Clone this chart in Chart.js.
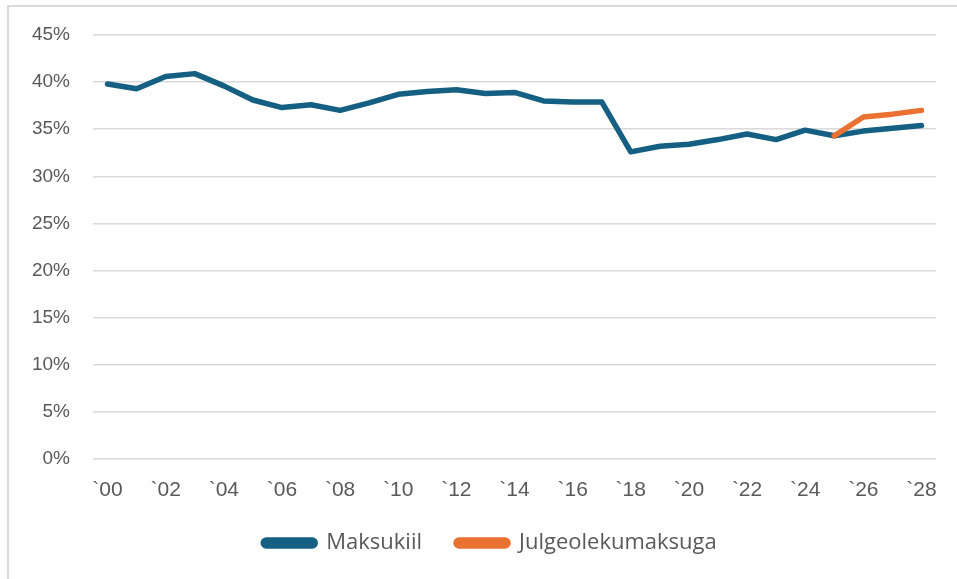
<!DOCTYPE html>
<html>
<head>
<meta charset="utf-8">
<script src="https://cdn.jsdelivr.net/npm/chart.js@4.4.1/dist/chart.umd.min.js"></script>
<style>
    html, body { margin: 0; padding: 0; background: #ffffff; }
    #wrap { position: relative; width: 957px; height: 579px; overflow: hidden; }
    #frame { position: absolute; left: 7px; top: 5px; width: 1000px; height: 600px;
             border-left: 2px solid #d9d9d9; border-top: 2px solid #d9d9d9; pointer-events: none; }
</style>
</head>
<body>
<div id="wrap">
    <canvas id="chart" width="957" height="579"></canvas>
    <div id="frame"></div>
</div>
<script>
    // years 2000..2028 as shown on the axis
    const years = ['`00', '`01', '`02', '`03', '`04', '`05', '`06', '`07', '`08', '`09',
                   '`10', '`11', '`12', '`13', '`14', '`15', '`16', '`17', '`18', '`19',
                   '`20', '`21', '`22', '`23', '`24', '`25', '`26', '`27', '`28'];

    const maksukiil = [39.8, 39.3, 40.6, 40.9, 39.6, 38.1, 37.3, 37.6, 37.0, 37.8,
                       38.7, 39.0, 39.2, 38.8, 38.9, 38.0, 37.9, 37.9, 32.6, 33.2,
                       33.4, 33.9, 34.5, 33.9, 34.9, 34.3, 34.8, 35.1, 35.4];

    const julgeolekumaksuga = [null, null, null, null, null, null, null, null, null, null,
                               null, null, null, null, null, null, null, null, null, null,
                               null, null, null, null, null, 34.3, 36.3, 36.6, 37.0];

    const yTicks = [0, 5, 10, 15, 20, 25, 30, 35, 40, 45];

    const textColor = '#595959';
    const gridColor = '#d9d9d9';

    // nudge the legend so it sits where the original one is
    const legendShift = {
        id: 'legendShift',
        afterLayout(chart) {
            chart.legend.left += 22;
            chart.legend.right += 22;
        }
    };

    const ctx = document.getElementById('chart').getContext('2d');
    new Chart(ctx, {
        type: 'line',
        data: {
            labels: years,
            datasets: [
                {
                    label: 'Maksukiil',
                    data: maksukiil,
                    borderColor: '#156082',
                    backgroundColor: '#156082',
                    borderWidth: 5.5,
                    borderCapStyle: 'round',
                    borderJoinStyle: 'round',
                    pointRadius: 0,
                    tension: 0,
                    order: 1
                },
                {
                    label: 'Julgeolekumaksuga',
                    data: julgeolekumaksuga,
                    borderColor: '#e97132',
                    backgroundColor: '#e97132',
                    borderWidth: 5.5,
                    borderCapStyle: 'round',
                    borderJoinStyle: 'round',
                    pointRadius: 0,
                    tension: 0,
                    order: 0
                }
            ]
        },
        options: {
            responsive: false,
            animation: false,
            layout: { padding: { top: 35, right: 21, bottom: 15, left: 0 } },
            scales: {
                x: {
                    offset: true,
                    grid: { display: false },
                    border: { display: false },
                    afterFit: (scale) => { scale.height = 39; },
                    ticks: {
                        autoSkip: false,
                        maxRotation: 0,
                        padding: 11,
                        color: textColor,
                        font: { family: "'Liberation Sans', Arial, sans-serif", size: 21 },
                        callback: function (val, i) { return i % 2 === 0 ? years[i] : ''; }
                    }
                },
                y: {
                    min: yTicks[0],
                    max: yTicks[yTicks.length - 1],
                    afterBuildTicks: (scale) => { scale.ticks = yTicks.map(v => ({ value: v })); },
                    afterFit: (scale) => { scale.width = 93; },
                    grid: { color: gridColor, lineWidth: 1.5, drawTicks: false },
                    border: { display: false },
                    ticks: {
                        padding: 23,
                        color: textColor,
                        font: { family: "'Liberation Sans', Arial, sans-serif", size: 19 },
                        callback: (v) => v + '%'
                    }
                }
            },
            plugins: {
                tooltip: { enabled: false },
                legend: {
                    position: 'bottom',
                    labels: {
                        boxWidth: 52,
                        boxHeight: 6,
                        useBorderRadius: true,
                        borderRadius: 3,
                        padding: 34,
                        color: textColor,
                        font: { family: "'Open Sans', 'Noto Sans', sans-serif", size: 22 },
                        sort: (a, b) => a.datasetIndex - b.datasetIndex
                    }
                }
            }
        },
        plugins: [legendShift]
    });
</script>
</body>
</html>
